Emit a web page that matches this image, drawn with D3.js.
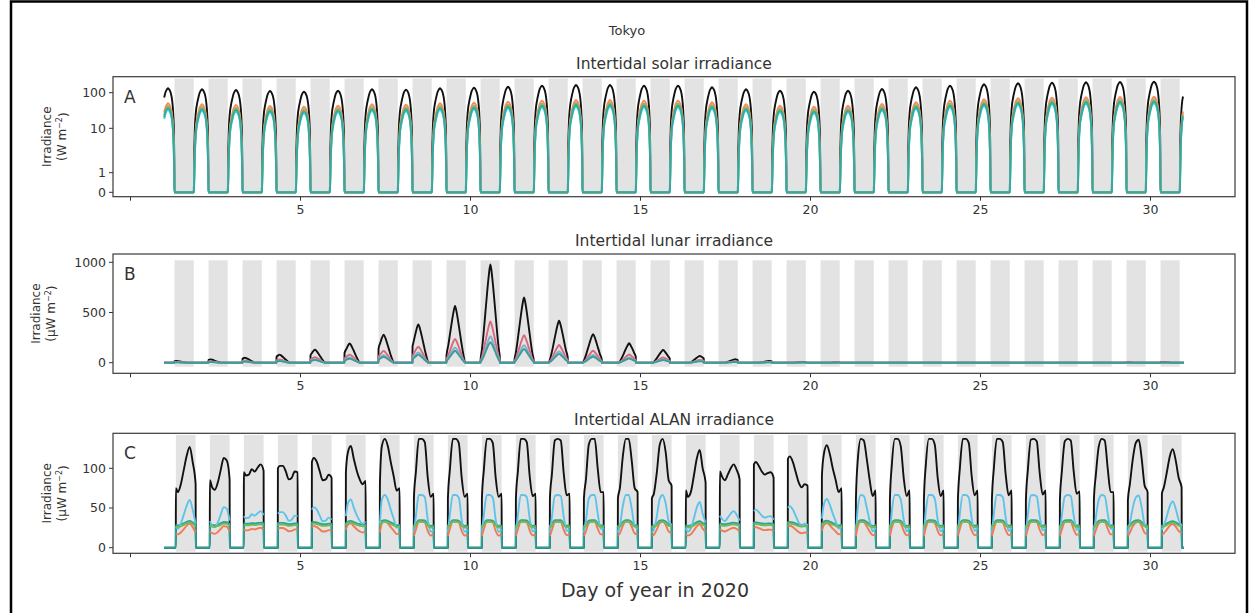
<!DOCTYPE html>
<html>
<head>
<meta charset="utf-8">
<script src="https://cdn.jsdelivr.net/npm/d3@7"></script>
<style>
body { margin: 0; background: #fff; }
text { font-family: "DejaVu Sans", sans-serif; fill: #333; }
</style>
</head>
<body>
<div id="fig"></div>
<script>

// ---- data ----
var xTicks = [0, 5, 10, 15, 20, 25, 30];
var xTickLabels = ["", "5", "10", "15", "20", "25", "30"];
var dataRange = [1.0, 31.0];            // day of year covered by the series
var nightDays = d3.range(1, 31);        // nights 1..30 (shaded)
var nightA = [0.31, 0.875];             // night window (fraction of day, UTC) panels A,B
var nightC = [0.35, 0.93];              // night window panel C

// A: solar, daily peak of the black series (W m-2), days 1..31
var solarPeak = [133, 125, 119, 112, 107, 114, 125, 122, 133, 138, 147, 157, 164, 164, 157,
                 157, 142, 125, 114, 107, 114, 127, 142, 157, 172, 184, 191, 196, 200, 204, 205];
// daylight profile (fraction of daylight -> fraction of peak)
var solarShapeF = [0, 0.015, 0.03, 0.07, 0.14, 0.22, 0.3, 0.4, 0.5, 0.56, 0.64, 0.74, 0.84, 0.91, 0.96, 0.985, 1];
var solarShapeV = [0, 0.004, 0.016, 0.07, 0.22, 0.38, 0.55, 0.8, 0.95, 1, 0.93, 0.75, 0.45, 0.2, 0.06, 0.014, 0];
var solarFactor = [1, 0.38, 0.32, 0.25, 0.28];
var solarColor = ["#111111", "#f4896b", "#a3b54a", "#2fd8ea", "#3aa69c"];
var solarTicks = [0, 1, 10, 100];

// B: lunar, per night centre (day) and peak of black series (uW m-2)
var lunarCenter = [1.37, 2.37, 3.38, 4.40, 5.44, 6.46, 7.46, 8.48, 9.56, 10.60, 11.59, 12.62, 13.62, 14.68, 15.68,
                   16.76, 17.80, 18.80, 19.80, 20.84, 21.86, 22.86, 23.86, 24.86, 25.86, 26.86, 27.86, 28.34, 29.36, 30.38];
var lunarPeak = [17, 33, 50, 80, 130, 192, 280, 382, 564, 978, 650, 418, 285, 193, 126,
                 67, 34, 17, 8, 3, 0, 0, 0, 0, 0, 0, 0, 1, 2, 5];
var lunarHalf = 0.3;
var lunarShapeU = [-1, -0.833, -0.667, -0.5, -0.333, -0.167, 0, 0.167, 0.333, 0.5, 0.667, 0.833, 1];
var lunarShapeV = [0, 0.13, 0.3, 0.5, 0.7, 0.88, 1, 0.88, 0.7, 0.5, 0.3, 0.13, 0];
var lunarFactor = [1, 0.42, 0.27, 0.21];
var lunarColor = ["#111111", "#d9697a", "#7fb0d0", "#3f9b96"];
var lunarTicks = [0, 500, 1000];

// C: ALAN, black series at fractions of each night (uW m-2)
var alanU = [0, 0.1, 0.25, 0.4, 0.55, 0.7, 0.85, 1];
var alanBlack = [
  [75, 70, 80, 98, 116, 127, 108, 80],
  [85, 77, 73, 82, 98, 113, 110, 86],
  [95, 91, 92, 99, 96, 101, 105, 97],
  [100, 103, 103, 96, 86, 88, 96, 95],
  [108, 113, 108, 96, 85, 86, 92, 88],
  [95, 120, 128, 112, 97, 86, 80, 84],
  [80, 128, 137, 128, 108, 90, 72, 75],
  [62, 95, 137, 137, 133, 89, 64, 68],
  [62, 98, 137, 137, 132, 88, 64, 68],
  [62, 98, 137, 137, 132, 88, 64, 68],
  [62, 96, 137, 137, 133, 90, 65, 68],
  [62, 92, 135, 137, 135, 94, 66, 68],
  [62, 85, 130, 137, 137, 100, 70, 70],
  [62, 75, 115, 137, 137, 110, 75, 70],
  [62, 68, 95, 130, 137, 120, 85, 78],
  [72, 64, 70, 90, 112, 123, 100, 82],
  [96, 90, 85, 92, 100, 105, 98, 86],
  [105, 108, 103, 96, 92, 94, 95, 88],
  [112, 115, 108, 95, 82, 76, 80, 78],
  [90, 118, 129, 118, 100, 85, 70, 75],
  [60, 112, 137, 135, 112, 85, 65, 72],
  [60, 105, 137, 137, 128, 88, 65, 72],
  [60, 105, 137, 137, 130, 88, 65, 72],
  [60, 100, 137, 137, 132, 90, 66, 72],
  [60, 100, 137, 137, 133, 92, 66, 72],
  [60, 98, 136, 137, 134, 94, 67, 72],
  [60, 96, 134, 137, 135, 96, 68, 71],
  [60, 92, 128, 137, 135, 100, 70, 70],
  [60, 80, 112, 132, 136, 112, 78, 70],
  [68, 76, 95, 115, 124, 110, 88, 76]
];
// other series vs black: value = slope * black + offset
var alanSlope = [1, 0.1, 0.635, 0.24, 0.1];
var alanOffset = [0, 21, -20.6, 0, 19];
var alanFull = [true, true, false, false, false];
var alanColor = ["#111111", "#24a69c", "#5ec3ea", "#ef7b54", "#76b852"];
var alanTicks = [0, 50, 100];

// ---- layout ----
var width = 1249, height = 613;
var plotLeft = 113, plotRight = 1235;

var svg = d3.select("#fig").append("svg")
    .attr("width", width)
    .attr("height", height);

svg.append("path")
    .attr("d", "M11,613V1.5H1247V613")
    .attr("fill", "none")
    .attr("stroke", "#000")
    .attr("stroke-width", 2.5);

var x = d3.scaleLinear().domain([-0.5, 32.5]).range([plotLeft, plotRight]);

// A: linear below 1, log above
var yALin = d3.scaleLinear().domain([0, 1]).range([192.3, 172.7]);
var yALog = d3.scaleLog().domain([1, 10, 100, 1000]).range([172.7, 128.3, 92.7, 57.1]);
function yA(v) { return v < 1 ? yALin(v) : yALog(v); }
var yB = d3.scaleLinear().domain([0, 1000]).range([362.7, 262.3]);
var yC = d3.scaleLinear().domain([0, 100]).range([547.7, 468.3]);

var panels = [
    {id: "A", top: 76.7, bottom: 196.7, y: yA, band: [-0.1, 250], night: nightA,
     title: "Intertidal solar irradiance", unit: "W", labX: 51},
    {id: "B", top: 254, bottom: 373.3, y: yB, band: [-40, 1020], night: nightA,
     title: "Intertidal lunar irradiance", unit: "\u00b5W", labX: 39.5},
    {id: "C", top: 433.3, bottom: 553.3, y: yC, band: [-5, 142], night: nightC,
     title: "Intertidal ALAN irradiance", unit: "\u00b5W", labX: 51}
];

svg.append("text")
    .attr("x", 627).attr("y", 35)
    .attr("text-anchor", "middle")
    .attr("font-size", 13)
    .text("Tokyo");

function lineFor(p) {
    return d3.line()
        .defined(function(d) { return d.v !== null; })
        .x(function(d) { return x(d.t); })
        .y(function(d) { return p.y(d.v); })
        .curve(d3.curveMonotoneX);
}

function inRange(d) { return d.t >= dataRange[0] - 0.011 && d.t <= dataRange[1]; }

// series builders
function solarPoints(factor) {
    var pts = [];
    solarPeak.forEach(function(peak, i) {
        var day = i + 1;
        var rise = day - 1 + nightA[1], set = day + nightA[0];
        solarShapeF.forEach(function(f, j) {
            pts.push({t: rise + f * (set - rise), v: peak * factor * solarShapeV[j]});
        });
    });
    return pts.filter(inRange);
}

function lunarPoints(factor) {
    var pts = [{t: dataRange[0], v: 0}];
    lunarPeak.forEach(function(peak, i) {
        if (peak === 0) return;
        var n = i + 1, s = n + nightA[0], e = n + nightA[1], c = lunarCenter[i];
        var hump = d3.scaleLinear()
            .domain(lunarShapeU.map(function(u) { return c + u * lunarHalf; }))
            .range(lunarShapeV.map(function(v) { return v * peak * factor; }))
            .clamp(true);
        pts.push({t: s - 0.004, v: 0});
        pts.push({t: s, v: hump(s)});
        lunarShapeU.forEach(function(u) {
            var t = c + u * lunarHalf;
            if (t > s + 0.01 && t < e - 0.01) pts.push({t: t, v: hump(t)});
        });
        pts.push({t: e, v: hump(e)});
        pts.push({t: e + 0.004, v: 0});
    });
    pts.push({t: dataRange[1], v: 0});
    return pts;
}

function alanPoints(k) {
    var pts = alanFull[k] ? [{t: dataRange[0], v: 0}] : [];
    alanBlack.forEach(function(vals, i) {
        var n = i + 1, s = n + nightC[0], e = n + nightC[1];
        if (alanFull[k]) pts.push({t: s - 0.004, v: 0});
        else pts.push({t: s - 0.004, v: null});
        alanU.forEach(function(u, j) {
            pts.push({t: s + u * (e - s), v: alanSlope[k] * vals[j] + alanOffset[k]});
        });
        if (alanFull[k]) pts.push({t: e + 0.004, v: 0});
    });
    if (alanFull[k]) pts.push({t: dataRange[1], v: 0});
    return pts;
}

var seriesByPanel = [
    solarFactor.map(function(f, i) { return {pts: solarPoints(f), color: solarColor[i]}; }),
    lunarFactor.map(function(f, i) { return {pts: lunarPoints(f), color: lunarColor[i]}; }),
    alanColor.map(function(c, i) { return {pts: alanPoints(i), color: c}; })
];

panels.forEach(function(p, pi) {
    var g = svg.append("g");

    g.append("clipPath").attr("id", "clip" + p.id)
        .append("rect")
        .attr("x", plotLeft).attr("y", p.top)
        .attr("width", plotRight - plotLeft).attr("height", p.bottom - p.top);

    var plot = g.append("g").attr("clip-path", "url(#clip" + p.id + ")");

    // night shading
    plot.selectAll(".band")
        .data(nightDays)
        .enter()
        .append("rect")
        .attr("class", "band")
        .attr("x", function(d) { return x(d + p.night[0]); })
        .attr("width", function(d) { return x(d + p.night[1]) - x(d + p.night[0]); })
        .attr("y", p.y(p.band[1]))
        .attr("height", p.y(p.band[0]) - p.y(p.band[1]))
        .attr("fill", "#e3e3e3");

    var line = lineFor(p);
    plot.selectAll(".series")
        .data(seriesByPanel[pi])
        .enter()
        .append("path")
        .attr("class", "series")
        .attr("d", function(d) { return line(d.pts); })
        .attr("fill", "none")
        .attr("stroke", function(d) { return d.color; })
        .attr("stroke-width", 1.9)
        .attr("stroke-linejoin", "round");

    // frame
    g.append("rect")
        .attr("x", plotLeft).attr("y", p.top)
        .attr("width", plotRight - plotLeft).attr("height", p.bottom - p.top)
        .attr("fill", "none")
        .attr("stroke", "#3a3a3a")
        .attr("stroke-width", 1.2);

    // x axis
    var xAxis = d3.axisBottom(x)
        .tickValues(xTicks)
        .tickFormat(function(d, i) { return xTickLabels[i]; })
        .tickSize(4)
        .tickPadding(4)
        .tickSizeOuter(0);
    var ax = g.append("g")
        .attr("transform", "translate(0," + p.bottom + ")")
        .call(xAxis);
    ax.select(".domain").remove();
    ax.selectAll("line").attr("stroke", "#333");
    ax.selectAll("text").attr("font-size", 12.5).attr("font-family", "DejaVu Sans").attr("fill", "#333");

    // y axis
    var ticks = [solarTicks, lunarTicks, alanTicks][pi];
    var ty = g.append("g").selectAll("g")
        .data(ticks)
        .enter()
        .append("g")
        .attr("transform", function(d) { return "translate(" + plotLeft + "," + p.y(d) + ")"; });
    ty.append("line").attr("x2", -4).attr("stroke", "#333");
    ty.append("text")
        .attr("x", -7)
        .attr("dy", "0.35em")
        .attr("text-anchor", "end")
        .attr("font-size", 12.5)
        .text(function(d) { return d; });

    // y label
    var mid = (p.top + p.bottom) / 2;
    var lab = g.append("text")
        .attr("transform", "translate(" + p.labX + "," + mid + ") rotate(-90)")
        .attr("text-anchor", "middle")
        .attr("font-size", 12);
    lab.append("tspan").attr("x", 0).attr("dy", 0).text("Irradiance");
    var l2 = lab.append("tspan").attr("x", 0).attr("dy", "1.25em");
    l2.append("tspan").text("(" + p.unit + " m");
    l2.append("tspan").attr("dy", "-0.45em").attr("font-size", 8).text("\u22122");
    l2.append("tspan").attr("dy", "0.45em").text(")");

    // title and panel letter
    g.append("text")
        .attr("x", (plotLeft + plotRight) / 2)
        .attr("y", p.top - 8)
        .attr("text-anchor", "middle")
        .attr("font-size", 15.5)
        .text(p.title);
    g.append("text")
        .attr("x", 124)
        .attr("y", p.top + 26)
        .attr("font-size", 17)
        .attr("fill", "#111")
        .text(p.id);
});

svg.append("text")
    .attr("x", 655).attr("y", 597)
    .attr("text-anchor", "middle")
    .attr("font-family", "Open Sans, sans-serif")
    .attr("font-size", 19)
    .attr("fill", "#111")
    .text("Day of year in 2020");

</script>
</body>
</html>
